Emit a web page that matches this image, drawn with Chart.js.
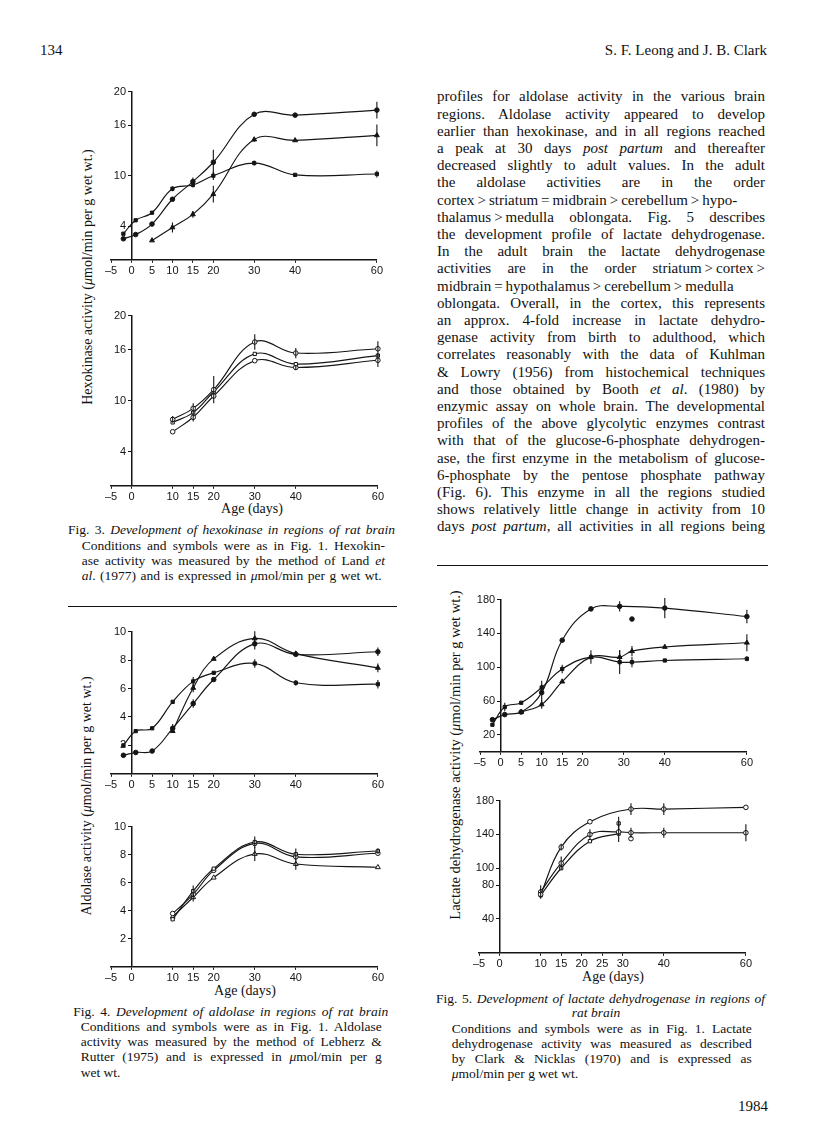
<!DOCTYPE html>
<html><head><meta charset="utf-8">
<script src="https://cdn.jsdelivr.net/npm/chart.js@4.4.1/dist/chart.umd.min.js"></script>
<style>
body{margin:0;width:816px;height:1147px;background:#fff;position:relative;overflow:hidden;font-family:'Liberation Serif','Times New Roman',serif;color:#111}
.t{position:absolute;white-space:nowrap}
.jl{position:absolute;white-space:nowrap}
.rot{position:absolute;white-space:nowrap;transform:translate(-50%,-50%) rotate(-90deg);font-size:14px}
canvas{position:absolute}
.rule{position:absolute;height:0;border-top:1.6px solid #111}
</style></head>
<body>
<script>
// ---------- DATA ----------
// Fig. 3 hexokinase, upper panel (filled symbols)
const hexA_sq_days = [-2, 1, 5, 10, 15, 20, 30, 40, 60];
const hexA_sq      = [3.1, 4.7, 5.6, 8.45, 8.9, 10.0, 11.5, 10.1, 10.2];
const hexA_sq_err  = [0, 0, 0, 0.3, 0.3, 0.5, 0.3, 0, 0.4];
const hexA_ci_days = [-2, 1, 5, 10, 15, 20, 30, 40, 60];
const hexA_ci      = [2.5, 3.0, 4.25, 7.2, 9.3, 11.6, 17.3, 17.2, 17.8];
const hexA_ci_err  = [0, 0, 0, 0, 0.5, 1.5, 0, 0, 1.0];
const hexA_tr_days = [5, 10, 15, 20, 30, 40, 60];
const hexA_tr      = [2.3, 3.85, 5.4, 7.8, 14.3, 14.2, 14.8];
const hexA_tr_err  = [0, 0.6, 0.4, 1.0, 0.3, 0, 1.3];
// Fig. 3 hexokinase, lower panel (open symbols)
const hexB_days    = [10, 15, 20, 30, 40, 60];
const hexB_top     = [7.8, 9.1, 11.3, 16.9, 15.6, 16.1];
const hexB_top_err = [0.4, 0.6, 1.6, 0.9, 0.6, 0.9];
const hexB_mid     = [7.45, 8.6, 11.05, 15.5, 14.3, 15.3];
const hexB_mid_err = [0, 0, 0, 0, 0, 0];
const hexB_low     = [6.35, 8.05, 10.55, 14.7, 13.9, 14.75];
const hexB_low_err = [0, 0.5, 0, 0, 0.3, 0.8];
// Fig. 4 aldolase, upper panel
const aldA_sq_days = [-2, 1, 5, 10, 15, 20, 30, 40, 60];
const aldA_sq      = [2.0, 3.0, 3.2, 5.06, 6.5, 7.1, 7.76, 6.4, 6.3];
const aldA_sq_err  = [0, 0, 0, 0, 0.3, 0, 0.3, 0.2, 0.3];
const aldA_ci_days = [-2, 1, 5, 10, 15, 20, 30, 40, 60];
const aldA_ci      = [1.3, 1.5, 1.6, 3.2, 4.94, 6.63, 9.14, 8.4, 8.58];
const aldA_ci_err  = [0, 0, 0, 0.3, 0.3, 0, 0.4, 0, 0.3];
const aldA_tr_days = [10, 15, 20, 30, 40, 60];
const aldA_tr      = [3.0, 6.04, 8.08, 9.52, 8.45, 7.45];
const aldA_tr_err  = [0, 0.3, 0, 0.5, 0, 0.3];
// Fig. 4 aldolase, lower panel
const aldB_days    = [10, 15, 20, 30, 40, 60];
const aldB_sq      = [3.39, 5.4, 7.0, 8.9, 8.03, 8.26];
const aldB_sq_err  = [0, 0.4, 0, 0.4, 0.4, 0.2];
const aldB_ci      = [3.8, 5.17, 6.88, 8.8, 7.84, 8.1];
const aldB_tr      = [3.57, 4.96, 6.36, 8.05, 7.33, 7.1];
const aldB_tr_err  = [0, 0.3, 0, 0.5, 0.4, 0];
// Fig. 5 lactate dehydrogenase, upper panel
const ldhA_sq_days = [-2, 1, 5, 10, 15, 22, 29, 32, 40, 60];
const ldhA_sq      = [32, 53, 58, 76, 98, 112, 106, 106, 108, 110];
const ldhA_sq_err  = [0, 5, 0, 8, 5, 8, 14, 6, 0, 3];
const ldhA_ci_days = [-2, 1, 5, 10, 15, 22, 29, 40, 60];
const ldhA_ci      = [38, 44, 47, 70, 132, 169, 172, 170, 160];
const ldhA_ci_err  = [0, 0, 0, 10, 0, 0, 6, 12, 8];
const ldhA_tr_days = [5, 10, 15, 22, 29, 32, 40, 60];
const ldhA_tr      = [47, 56, 83, 112, 112, 119, 124, 129];
const ldhA_tr_err  = [0, 5, 0, 0, 8, 6, 0, 10];
const ldhA_extra_days = [32];
const ldhA_extra      = [157];
// Fig. 5 lactate dehydrogenase, lower panel
const ldhB_top_days = [10, 15, 22, 32, 40, 60];
const ldhB_top      = [69, 125, 155, 170, 170, 172];
const ldhB_top_err  = [0, 4, 0, 7, 7, 0];
const ldhB_mid_days = [10, 15, 22, 29, 32, 40, 60];
const ldhB_mid      = [72, 106, 140, 143, 142, 142, 142];
const ldhB_mid_err  = [8, 8, 6, 12, 6, 6, 10];
const ldhB_low_days = [10, 15, 22, 29];
const ldhB_low      = [68, 100, 132, 141];
const ldhB_extra_sq_days = [29];
const ldhB_extra_sq      = [153];
const ldhB_extra_ci_days = [32];
const ldhB_extra_ci      = [135];
// tick labels
const xTicksFull  = [-5, 0, 5, 10, 15, 20, 30, 40, 60];
const xTicksNo5   = [-5, 0, 10, 15, 20, 30, 40, 60];
const xTicksLdhB  = [-5, 0, 10, 15, 20, 25, 30, 40, 60];
const yTicksHex   = [4, 10, 16, 20];
const yTicksAld   = [2, 4, 6, 8, 10];
const yTicksLdhA  = [20, 60, 100, 140, 180];
const yTicksLdhB  = [40, 80, 100, 140, 180];
</script>

<div class="t" style="left:40px;top:42px;font-size:15px">134</div>
<div class="t" style="right:49px;top:42px;font-size:15px">S. F. Leong and J. B. Clark</div>

<div class="rot" style="left:88px;top:277px">Hexokinase activity (<i>μ</i>mol/min per g wet wt.)</div>
<div class="rot" style="left:87px;top:796px">Aldolase activity (<i>μ</i>mol/min per g wet wt.)</div>
<div class="rot" style="left:455px;top:755px;font-size:14.5px">Lactate dehydrogenase activity (<i>μ</i>mol/min per g wet wt.)</div>

<div class="t" style="left:252px;top:509px;transform:translate(-50%,-50%);font-size:14px">Age (days)</div>
<div class="t" style="left:245px;top:991px;transform:translate(-50%,-50%);font-size:14px">Age (days)</div>
<div class="t" style="left:613px;top:977px;transform:translate(-50%,-50%);font-size:14px">Age (days)</div>

<div class="rule" style="left:68px;top:606px;width:329px"></div>
<div class="rule" style="left:437px;top:565px;width:331px"></div>

<div class="t" style="left:596px;top:1013px;transform:translate(-50%,-50%);font-size:13.5px"><i>rat brain</i></div>
<div class="t" style="right:48px;top:1098px;font-size:15px">1984</div>

<canvas id="c1"></canvas><canvas id="c2"></canvas><canvas id="c3"></canvas>
<canvas id="c4"></canvas><canvas id="c5"></canvas><canvas id="c6"></canvas>

<script>
// ---------- TEXT ----------
const bodyLines = [
 "profiles for aldolase activity in the various brain",
 "regions. Aldolase activity appeared to develop",
 "earlier than hexokinase, and in all regions reached",
 "a peak at 30 days <i>post partum</i> and thereafter",
 "decreased slightly to adult values. In the adult",
 "the aldolase activities are in the order",
 "cortex\u2009>\u2009striatum\u2009=\u2009midbrain\u2009>\u2009cerebellum\u2009>\u2009hypo-",
 "thalamus\u2009>\u2009medulla oblongata. Fig. 5 describes",
 "the development profile of lactate dehydrogenase.",
 "In the adult brain the lactate dehydrogenase",
 "activities are in the order striatum\u2009>\u2009cortex\u2009>",
 "midbrain\u2009=\u2009hypothalamus\u2009>\u2009cerebellum\u2009>\u2009medulla",
 "oblongata. Overall, in the cortex, this represents",
 "an approx. 4-fold increase in lactate dehydro-",
 "genase activity from birth to adulthood, which",
 "correlates reasonably with the data of Kuhlman",
 "&amp; Lowry (1956) from histochemical techniques",
 "and those obtained by Booth <i>et al</i>. (1980) by",
 "enzymic assay on whole brain. The developmental",
 "profiles of the above glycolytic enzymes contrast",
 "with that of the glucose-6-phosphate dehydrogen-",
 "ase, the first enzyme in the metabolism of glucose-",
 "6-phosphate by the pentose phosphate pathway",
 "(Fig. 6). This enzyme in all the regions studied",
 "shows relatively little change in activity from 10",
 "days <i>post partum</i>, all activities in all regions being"
];
const captionLines = [
 // [html, left, right(or null), centerY, size]
 ["Fig. 3. <i>Development of hexokinase in regions of rat brain</i>", 68, 395, 530, 13.5],
 ["Conditions and symbols were as in Fig. 1. Hexokin-", 81.7, 385, 545.3, 13.5],
 ["ase activity was measured by the method of Land <i>et</i>", 81.7, 385, 560.6, 13.5],
 ["<i>al</i>. (1977) and is expressed in <i>μ</i>mol/min per g wet wt.", 81.7, 381.7, 576, 13.5],
 ["Fig. 4. <i>Development of aldolase in regions of rat brain</i>", 73.3, 388.3, 1011.7, 13.5],
 ["Conditions and symbols were as in Fig. 1. Aldolase", 80.7, 381.7, 1026.7, 13.5],
 ["activity was measured by the method of Lebherz &amp;", 80.7, 381.7, 1041.8, 13.5],
 ["Rutter (1975) and is expressed in <i>μ</i>mol/min per g", 80.7, 381.7, 1057, 13.5],
 ["wet wt.", 80.7, null, 1072.5, 13.5],
 ["Fig. 5. <i>Development of lactate dehydrogenase in regions of</i>", 436, 765, 998.3, 13.5],
 ["Conditions and symbols were as in Fig. 1. Lactate", 451.7, 751.7, 1028.3, 13.5],
 ["dehydrogenase activity was measured as described", 451.7, 751.7, 1043.6, 13.5],
 ["by Clark &amp; Nicklas (1970) and is expressed as", 451.7, 751.7, 1058.8, 13.5],
 ["<i>μ</i>mol/min per g wet wt.", 451.7, null, 1073.5, 13.5]
];
function placeLine(html, left, right, cy, size) {
  const d = document.createElement('div');
  d.className = 'jl';
  d.style.fontSize = size + 'px';
  d.style.lineHeight = Math.round(size * 1.15) + 'px';
  d.style.left = left + 'px';
  d.style.top = (cy - size * 1.15 / 2) + 'px';
  d.innerHTML = html;
  document.body.appendChild(d);
  if (right !== null) {
    const target = right - left;
    const natural = d.getBoundingClientRect().width;
    const spaces = (d.textContent.match(/ /g) || []).length;
    if (spaces > 0) d.style.wordSpacing = ((target - natural) / spaces) + 'px';
  }
}
bodyLines.forEach((h, i) => placeLine(h, 437, 765, 97 + i * 17.2, 15));
captionLines.forEach(c => placeLine(c[0], c[1], c[2], c[3], c[4]));

// ---------- CHARTS ----------
const INK = '#151515';
const errorBarPlugin = {
  id: 'errbars',
  afterDatasetsDraw(chart) {
    const ctx = chart.ctx, xs = chart.scales.x, ys = chart.scales.y;
    chart.data.datasets.forEach(ds => {
      if (!ds.err) return;
      ds.data.forEach((p, j) => {
        const e = ds.err[j];
        if (!e) return;
        const px = xs.getPixelForValue(p.x);
        ctx.save();
        ctx.strokeStyle = INK; ctx.lineWidth = 1.1;
        ctx.beginPath();
        ctx.moveTo(px, ys.getPixelForValue(p.y - e));
        ctx.lineTo(px, ys.getPixelForValue(p.y + e));
        ctx.stroke();
        ctx.restore();
      });
    });
  }
};
function pts(xs, ys) { return xs.map((x, i) => ({x: x, y: ys[i]})); }
function series(xs, ys, err, style, open, showLine = true) {
  return {
    data: pts(xs, ys), err: err,
    borderColor: INK, borderWidth: 1.15, tension: 0.4, fill: false, showLine: showLine,
    pointStyle: style, pointRadius: style === 'triangle' ? 2.8 : 2.3,
    pointBackgroundColor: open ? '#fff' : INK, pointBorderColor: INK, pointBorderWidth: 1,
    clip: false
  };
}
function axisCommon(ticks, isY) {
  return {
    afterBuildTicks: s => { s.ticks = ticks.map(v => ({value: v})); },
    grid: {display: true, drawOnChartArea: false, drawTicks: true, tickLength: 3, color: INK, lineWidth: 1},
    border: {display: true, color: INK, width: 1.5},
    ticks: {color: INK, font: {family: 'Liberation Sans', size: 11}, padding: 2, maxRotation: 0, autoSkip: false,
            callback: v => String(v).replace('-', '\u2013') + (isY ? '\u2002' : '')}
  };
}
function config(spec) {
  const x = Object.assign({type: 'linear', min: -5, max: 60}, axisCommon(spec.xTicks, false));
  const y = Object.assign({type: 'linear', min: 0, max: spec.yMax, position: {x: 0}}, axisCommon(spec.yTicks, true));
  return {
    type: 'line',
    data: {datasets: spec.datasets},
    options: {
      responsive: false, animation: false, devicePixelRatio: 1,
      plugins: {legend: {display: false}, tooltip: {enabled: false}, title: {display: false}},
      layout: {padding: 0},
      scales: {x: x, y: y}
    },
    plugins: [errorBarPlugin]
  };
}
function makePanel(id, spec) {
  const cv = document.getElementById(id);
  const build = (w, h) => {
    cv.width = w; cv.height = h; cv.style.width = w + 'px'; cv.style.height = h + 'px';
    return new Chart(cv, config(spec));
  };
  let ch = build(400, 300);
  const a = ch.chartArea;
  const mL = a.left, mT = a.top, mR = 400 - a.right, mB = 300 - a.bottom;
  ch.destroy();
  const b = spec.box;
  const W = Math.round(b.right - b.left + mL + mR), H = Math.round(b.bottom - b.top + mT + mB);
  ch = build(W, H);
  cv.style.left = (b.left - ch.chartArea.left) + 'px';
  cv.style.top = (b.top - ch.chartArea.top) + 'px';
}

makePanel('c1', {
  box: {left: 111, right: 377, top: 91.3, bottom: 260}, xTicks: xTicksFull, yTicks: yTicksHex, yMax: 20,
  datasets: [
    series(hexA_sq_days, hexA_sq, hexA_sq_err, 'rect', false),
    series(hexA_ci_days, hexA_ci, hexA_ci_err, 'circle', false),
    series(hexA_tr_days, hexA_tr, hexA_tr_err, 'triangle', false)
  ]
});
makePanel('c2', {
  box: {left: 111, right: 377.3, top: 315.7, bottom: 485.7}, xTicks: xTicksNo5, yTicks: yTicksHex, yMax: 20,
  datasets: [
    series(hexB_days, hexB_top, hexB_top_err, 'circle', true),
    series(hexB_days, hexB_mid, hexB_mid_err, 'rect', true),
    series(hexB_days, hexB_low, hexB_low_err, 'circle', true)
  ]
});
makePanel('c3', {
  box: {left: 111, right: 377.3, top: 631.7, bottom: 773.5}, xTicks: xTicksFull, yTicks: yTicksAld, yMax: 10,
  datasets: [
    series(aldA_sq_days, aldA_sq, aldA_sq_err, 'rect', false),
    series(aldA_ci_days, aldA_ci, aldA_ci_err, 'circle', false),
    series(aldA_tr_days, aldA_tr, aldA_tr_err, 'triangle', false)
  ]
});
makePanel('c4', {
  box: {left: 111, right: 377.3, top: 826.7, bottom: 966.7}, xTicks: xTicksNo5, yTicks: yTicksAld, yMax: 10,
  datasets: [
    series(aldB_days, aldB_sq, aldB_sq_err, 'rect', true),
    series(aldB_days, aldB_ci, null, 'circle', true),
    series(aldB_days, aldB_tr, aldB_tr_err, 'triangle', true)
  ]
});
makePanel('c5', {
  box: {left: 480, right: 746.7, top: 599.3, bottom: 751.5}, xTicks: xTicksFull, yTicks: yTicksLdhA, yMax: 180,
  datasets: [
    series(ldhA_sq_days, ldhA_sq, ldhA_sq_err, 'rect', false),
    series(ldhA_ci_days, ldhA_ci, ldhA_ci_err, 'circle', false),
    series(ldhA_tr_days, ldhA_tr, ldhA_tr_err, 'triangle', false),
    series(ldhA_extra_days, ldhA_extra, null, 'circle', false, false)
  ]
});
makePanel('c6', {
  box: {left: 479, right: 746, top: 800.7, bottom: 953}, xTicks: xTicksLdhB, yTicks: yTicksLdhB, yMax: 180,
  datasets: [
    series(ldhB_top_days, ldhB_top, ldhB_top_err, 'circle', true),
    series(ldhB_mid_days, ldhB_mid, ldhB_mid_err, 'circle', true),
    series(ldhB_low_days, ldhB_low, null, 'rect', true),
    series(ldhB_extra_sq_days, ldhB_extra_sq, [8], 'rect', true, false),
    series(ldhB_extra_ci_days, ldhB_extra_ci, null, 'circle', true, false)
  ]
});
</script>
</body></html>
